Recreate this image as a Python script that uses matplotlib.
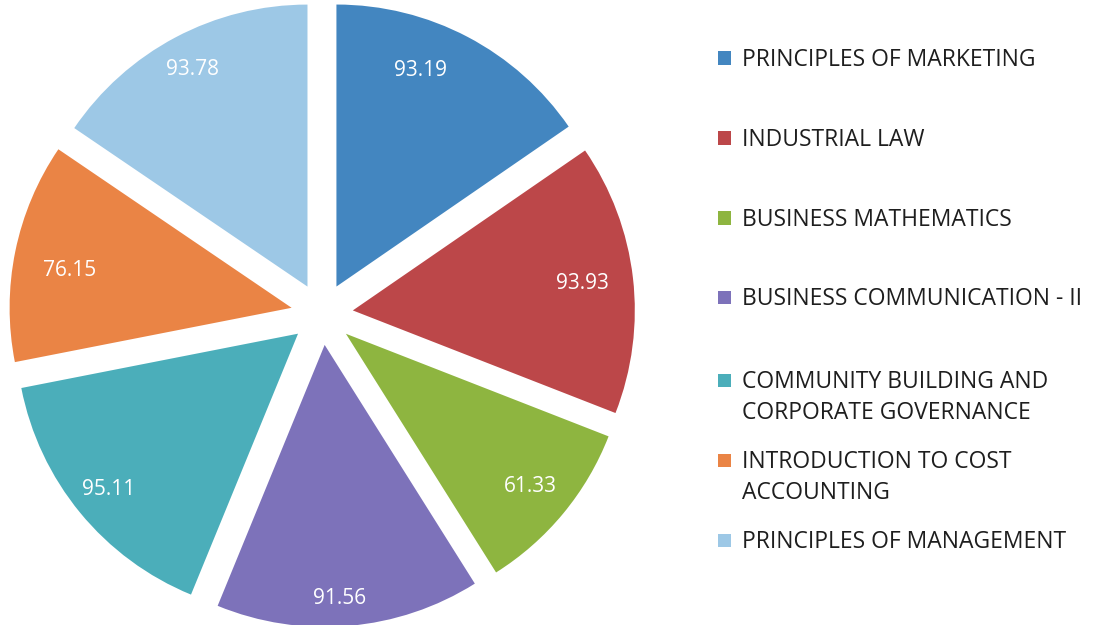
import matplotlib
matplotlib.use("Agg")
import numpy as np
import matplotlib.pyplot as plt
from matplotlib.patches import Rectangle

subjects = [
    "PRINCIPLES OF MARKETING",
    "INDUSTRIAL LAW",
    "BUSINESS MATHEMATICS",
    "BUSINESS COMMUNICATION - II",
    "COMMUNITY BUILDING AND\nCORPORATE GOVERNANCE",
    "INTRODUCTION TO COST\nACCOUNTING",
    "PRINCIPLES OF MANAGEMENT",
]
scores = [93.19, 93.93, 61.33, 91.56, 95.11, 76.15, 93.78]
colors = ["#4386C0", "#BC4749", "#8EB540", "#7D72BA", "#4BAEBA", "#EA8445", "#9DC8E6"]

FONT = "Open Sans"
W, H = 1093, 625
fig = plt.figure(figsize=(W / 100, H / 100), dpi=100)
ax = fig.add_axes([0, 0, 1, 1])

# pixel scale: pie radius of 282 px centred at (322, 314) from the top-left
R = 282.0
cx, cy = 322.0, 314.0

total = sum(scores)
wedges, texts, autotexts = ax.pie(
    scores,
    colors=colors,
    startangle=90,
    counterclock=False,
    explode=[0.11] * len(scores),
    autopct=lambda p: f"{p * total / 100:.2f}",
    pctdistance=0.85,
    textprops=dict(color="white", fontsize=15, family=FONT),
    wedgeprops=dict(linewidth=0),
)

# fine placement of value labels inside each wedge: (radius fraction, angle shift in degrees)
label_place = [(0.82, 6.5), (0.82, 0), (0.85, 0), (0.90, -1.5), (0.87, 0), (0.80, 2.0), (0.87, 0)]
for w, t, (frac, shift) in zip(wedges, autotexts, label_place):
    ang = np.deg2rad((w.theta1 + w.theta2) / 2 + shift)
    x0, y0 = w.center
    t.set_position((x0 + frac * w.r * np.cos(ang), y0 + frac * w.r * np.sin(ang)))

ax.set_xlim(-cx / R, (W - cx) / R)
ax.set_ylim(-(H - cy) / R, cy / R)
ax.set_aspect("auto")
ax.axis("off")

# legend drawn on the right
legend_rows = [58, 138, 218, 297, 380, 460, 540]
sq = 13
for name, col, y in zip(subjects, colors, legend_rows):
    fig.patches.append(Rectangle((718 / W, 1 - (y + sq / 2) / H), sq / W, sq / H,
                                 transform=fig.transFigure, facecolor=col,
                                 edgecolor="none"))
    fig.text(742 / W, 1 - (y - 10) / H, name, ha="left", va="top",
             fontsize=16.5, family=FONT, color="#1E1E1E", linespacing=1.38)

fig.savefig("out.png", dpi=100)
